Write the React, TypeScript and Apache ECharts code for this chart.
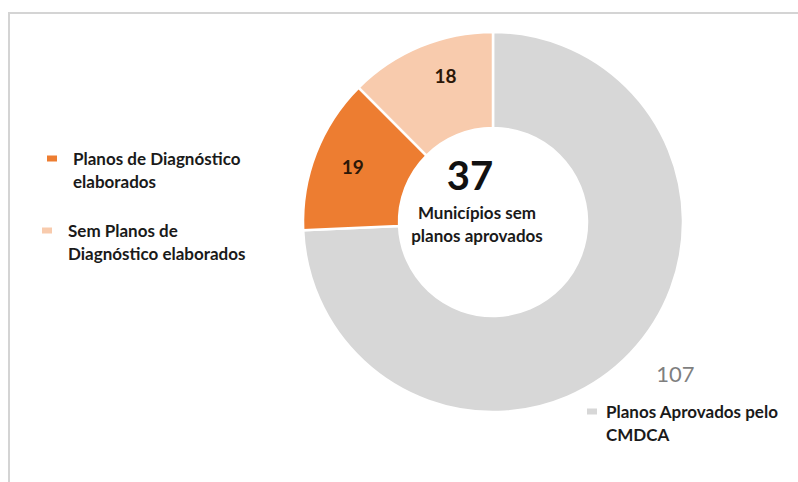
import React, { useEffect, useRef } from "react";
import * as echarts from "echarts";

const categories = [
  "Planos Aprovados pelo CMDCA",
  "Planos de Diagnóstico elaborados",
  "Sem Planos de Diagnóstico elaborados",
];
const values = [107, 19, 18];
const colors = ["#D7D7D7", "#ED7D31", "#F8CBAD"];
const legendLines: Record<string, string> = {
  "Planos Aprovados pelo CMDCA": "Planos Aprovados pelo\nCMDCA",
  "Planos de Diagnóstico elaborados": "Planos de Diagnóstico\nelaborados",
  "Sem Planos de Diagnóstico elaborados": "Sem Planos de\nDiagnóstico elaborados",
};
const centerTotal = "37";
const centerCaption = "Municípios sem\nplanos aprovados";

const FONT = "Lato, 'Open Sans', sans-serif";

export default function App() {
  const ref = useRef<HTMLDivElement>(null);
  useEffect(() => {
    if (!ref.current) return;
    const chart = echarts.init(ref.current, null, { renderer: "svg" });
    const legendBase = (name: string, left: number, top: number, gap: number) => ({
      data: [name],
      left,
      top,
      orient: "vertical",
      icon: "rect",
      itemWidth: 12,
      itemHeight: 8,
      itemGap: 0,
      padding: 0,
      selectedMode: false,
      formatter: (n: string) => "\n" + (legendLines[n] || n),
      textStyle: {
        fontFamily: FONT,
        fontSize: 17,
        fontWeight: "bold",
        color: "#1a1a1a",
        lineHeight: 23,
        padding: [0, 0, 0, gap],
      },
    });
    const spacer = { s: { width: 16 }, t: { lineHeight: 6 }, u: { lineHeight: 26 } };
    chart.setOption({
      animation: false,
      backgroundColor: "#ffffff",
      legend: [
        legendBase(categories[1], 45, 124, 10),
        legendBase(categories[2], 40, 196, 10),
        legendBase(categories[0], 585, 377, 3),
      ],
      graphic: [
        { type: "line", shape: { x1: 8, y1: 13, x2: 798, y2: 13 }, style: { stroke: "#d4d4d4", lineWidth: 2 } },
        { type: "line", shape: { x1: 9, y1: 13, x2: 9, y2: 482 }, style: { stroke: "#d4d4d4", lineWidth: 2 } },
        {
          type: "text",
          x: 470,
          y: 175,
          style: {
            text: centerTotal,
            fontFamily: FONT,
            fontSize: 40,
            fontWeight: "bold",
            fill: "#111111",
            textAlign: "center",
            textVerticalAlign: "middle",
          },
        },
        {
          type: "text",
          x: 477,
          y: 224,
          style: {
            text: centerCaption,
            fontFamily: FONT,
            fontSize: 17,
            fontWeight: "bold",
            fill: "#1a1a1a",
            lineHeight: 23,
            textAlign: "center",
            textVerticalAlign: "middle",
          },
        },
      ],
      series: [
        {
          type: "pie",
          center: [493, 222],
          radius: [94, 190],
          startAngle: 90,
          clockwise: true,
          avoidLabelOverlap: false,
          itemStyle: { borderColor: "#ffffff", borderWidth: 2.5 },
          emphasis: { disabled: true },
          label: {
            show: true,
            position: "inside",
            formatter: "{c}",
            fontFamily: FONT,
            fontSize: 19,
            fontWeight: "bold",
            color: "#2b1708",
            lineHeight: 23,
          },
          labelLine: { show: false },
          data: categories.map((name, i) => {
            const item: any = { name, value: values[i], itemStyle: { color: colors[i] } };
            if (i === 0) {
              item.label = {
                position: "outside",
                fontSize: 22,
                fontWeight: "normal",
                color: "#7f7f7f",
              };
              item.labelLine = { show: false, length: 29, length2: 0 };
            } else if (i === 1) {
              item.label = { formatter: "{c}{s|}\n{t|}", rich: { s: { width: 10 }, t: spacer.t } };
            } else {
              item.label = { formatter: "{s|}{c}\n{u|}", rich: { s: spacer.s, u: spacer.u } };
            }
            return item;
          }),
        },
      ],
    });
    return () => chart.dispose();
  }, []);
  return (
    <div
      ref={ref}
      style={{ position: "absolute", left: 0, top: 0, width: 798, height: 482 }}
    />
  );
}
